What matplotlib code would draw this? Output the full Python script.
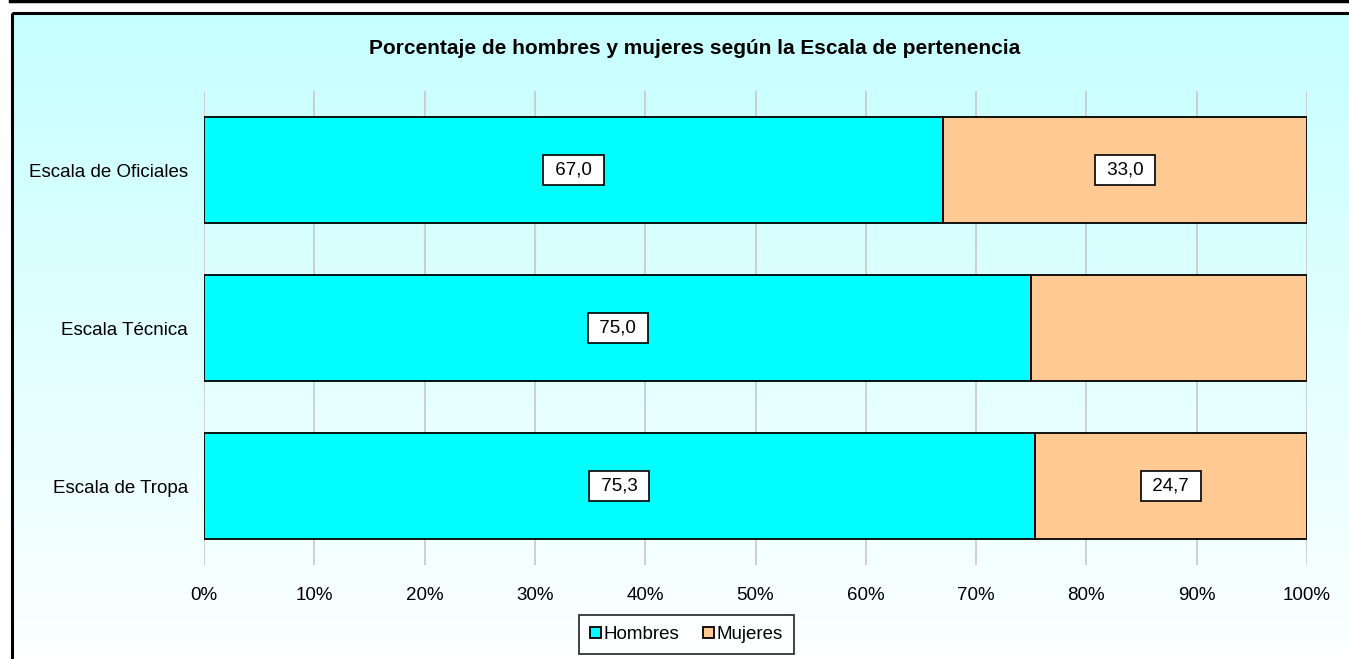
import numpy as np
import matplotlib.pyplot as plt
from matplotlib.patches import Rectangle
from matplotlib.lines import Line2D

plt.rcParams['font.family'] = ['Liberation Sans', 'DejaVu Sans']

categorias = ['Escala de Oficiales', 'Escala Técnica', 'Escala de Tropa']
hombres = [67.0, 75.0, 75.3]
mujeres = [33.0, 25.0, 24.7]
etiquetas_hombres = ['67,0', '75,0', '75,3']
etiquetas_mujeres = ['33,0', '', '24,7']
ticks = [0, 10, 20, 30, 40, 50, 60, 70, 80, 90, 100]

W, H = 1349, 659
fs = 13.5
fig = plt.figure(figsize=(W / 100, H / 100), dpi=100)

# fondo degradado de todo el grafico
bg = fig.add_axes([0, 0, 1, 1])
bg.axis('off')
grad = np.linspace(0, 1, 256).reshape(-1, 1)
top = np.array([0.776, 1.0, 1.0])
bot = np.array([0.99, 1.0, 1.0])
img = top + (bot - top) * grad[..., None]
bg.imshow(img, extent=[12, W + 5, H + 5, 13], aspect='auto', zorder=0)
bg.add_patch(Rectangle((12, 13), W, H, fill=False, ec='black', lw=2.2, zorder=2))
bg.add_line(Line2D([10, W], [1, 1], color='black', lw=2.5))
bg.set_xlim(0, W)
bg.set_ylim(H, 0)

ax = fig.add_axes([204 / W, 1 - 565 / H, (1307 - 204) / W, (565 - 91) / H])
ax.patch.set_alpha(0)
y = np.arange(len(categorias))
h = 0.665
ax.barh(y, hombres, height=h, color='#00FFFF', edgecolor='black', lw=1.3, label='Hombres', zorder=3)
ax.barh(y, mujeres, left=hombres, height=h, color='#FFC993', edgecolor='black', lw=1.3,
        label='Mujeres', zorder=3)

box = dict(boxstyle='square,pad=0.35', fc='white', ec='black', lw=1.2)
for i in range(len(categorias)):
    ax.text(hombres[i] / 2, y[i], ' ' + etiquetas_hombres[i] + ' ', ha='center', va='center',
            fontsize=fs, bbox=box, zorder=5)
    if etiquetas_mujeres[i]:
        ax.text(hombres[i] + mujeres[i] / 2, y[i], ' ' + etiquetas_mujeres[i] + ' ', ha='center',
                va='center', fontsize=fs, bbox=box, zorder=5)

ax.set_xlim(0, 100)
ax.set_ylim(len(categorias) - 0.5, -0.5)
ax.set_xticks(ticks)
ax.set_xticklabels([f'{t}%' for t in ticks], fontsize=fs)
ax.set_yticks(y)
ax.set_yticklabels(categorias, fontsize=fs)
ax.tick_params(axis='y', length=0, pad=11.5)
ax.tick_params(axis='x', length=0, pad=16)
ax.grid(axis='x', color='#C8C8C8', lw=1.2, zorder=0)
for s in ax.spines.values():
    s.set_visible(False)

fig.text(695 / W, 1 - 48 / H, 'Porcentaje de hombres y mujeres según la Escala de pertenencia',
         fontsize=15, fontweight='bold', ha='center', va='center')

leg = fig.legend(*ax.get_legend_handles_labels(), loc='upper center',
                 bbox_to_anchor=(686.5 / W, 1 - 612 / H), ncol=2, frameon=True,
                 fancybox=False, edgecolor='black', fontsize=fs, handlelength=0.55,
                 handleheight=0.55, handletextpad=0.15, columnspacing=1.3, borderpad=0.6,
                 borderaxespad=0.15)
leg.get_frame().set_linewidth(1.3)
leg.get_frame().set_facecolor('white')

fig.savefig('out.png', dpi=100)
